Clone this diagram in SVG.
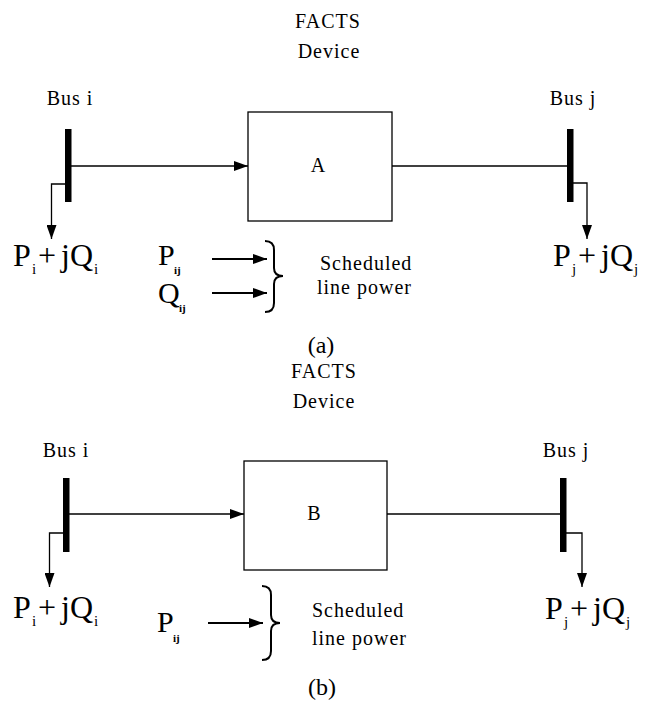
<svg xmlns="http://www.w3.org/2000/svg" width="645" height="701" viewBox="0 0 645 701">
<style>
.ln{stroke:#000;stroke-width:1.3;fill:none}
.thick{stroke:#000;stroke-width:2.2;fill:none}
.bar{fill:#000}
.box{fill:#fff;stroke:#000;stroke-width:1.3}
.brace{stroke:#000;stroke-width:2;fill:none}
</style>
<defs>
<marker id="ah" markerUnits="userSpaceOnUse" markerWidth="14" markerHeight="10" refX="14" refY="5" orient="auto">
<path d="M0,0 L14,5 L0,10 z" fill="#000"/>
</marker>
</defs>

<!-- Panel (a) -->
<g id="a-device">
<text font-family="Liberation Serif" font-size="20" letter-spacing="1" x="328" y="28" text-anchor="middle">FACTS</text>
<text font-family="Liberation Serif" font-size="20" letter-spacing="1" x="329" y="58" text-anchor="middle">Device</text>
<rect class="box" x="248" y="112" width="144" height="109"/>
<text font-family="Liberation Serif" font-size="20" x="318" y="172" text-anchor="middle">A</text>
</g>
<g id="a-busi">
<text font-family="Liberation Serif" font-size="20" letter-spacing="1" x="70" y="105" text-anchor="middle">Bus i</text>
<rect class="bar" x="65" y="129" width="6.5" height="73"/>
<text font-family="Liberation Serif" font-size="32" y="266"><tspan x="13">P</tspan><tspan font-size="15" x="32" y="274">i</tspan><tspan x="38" y="266">+</tspan><tspan x="61" y="266">jQ</tspan><tspan font-size="15" x="94" y="274">i</tspan></text>
</g>
<g id="a-busj">
<text font-family="Liberation Serif" font-size="20" letter-spacing="1" x="573" y="105" text-anchor="middle">Bus j</text>
<rect class="bar" x="567" y="129" width="6.5" height="73"/>
<text font-family="Liberation Serif" font-size="32" y="266"><tspan x="553">P</tspan><tspan font-size="15" x="572" y="274">j</tspan><tspan x="578" y="266">+</tspan><tspan x="601" y="266">jQ</tspan><tspan font-size="15" x="634" y="274">j</tspan></text>
</g>
<g id="a-sched">
<text font-family="Liberation Serif" font-size="30" y="265"><tspan x="158">P</tspan><tspan font-size="11" font-weight="bold" x="174" y="274">ij</tspan></text>
<text font-family="Liberation Serif" font-size="30" y="303"><tspan x="158">Q</tspan><tspan font-size="11" font-weight="bold" x="179" y="312">ij</tspan></text>
<path class="brace" d="M265,241 Q274,241 274,250 L274,268 Q274,276 283,276 Q274,276 274,284 L274,303 Q274,312 265,312"/>
<text font-family="Liberation Serif" font-size="20" letter-spacing="1" x="320" y="270">Scheduled</text>
<text font-family="Liberation Serif" font-size="20" letter-spacing="1" x="317" y="294">line power</text>
</g>
<text font-family="Liberation Serif" font-size="24" x="321" y="353" text-anchor="middle">(a)</text>

<!-- Panel (b) -->
<g id="b-device">
<text font-family="Liberation Serif" font-size="20" letter-spacing="1" x="324" y="378" text-anchor="middle">FACTS</text>
<text font-family="Liberation Serif" font-size="20" letter-spacing="1" x="324" y="408" text-anchor="middle">Device</text>
<rect class="box" x="244" y="461" width="143" height="109"/>
<text font-family="Liberation Serif" font-size="20" x="314" y="520" text-anchor="middle">B</text>
</g>
<g id="b-busi">
<text font-family="Liberation Serif" font-size="20" letter-spacing="1" x="66" y="457" text-anchor="middle">Bus i</text>
<rect class="bar" x="63" y="478" width="6.5" height="74"/>
<text font-family="Liberation Serif" font-size="32" y="618"><tspan x="13">P</tspan><tspan font-size="15" x="32" y="626">i</tspan><tspan x="38" y="618">+</tspan><tspan x="61" y="618">jQ</tspan><tspan font-size="15" x="94" y="626">i</tspan></text>
</g>
<g id="b-busj">
<text font-family="Liberation Serif" font-size="20" letter-spacing="1" x="566" y="457" text-anchor="middle">Bus j</text>
<rect class="bar" x="560" y="478" width="6.5" height="74"/>
<text font-family="Liberation Serif" font-size="32" y="619"><tspan x="545">P</tspan><tspan font-size="15" x="564" y="627">j</tspan><tspan x="570" y="619">+</tspan><tspan x="593" y="619">jQ</tspan><tspan font-size="15" x="626" y="627">j</tspan></text>
</g>
<g id="b-sched">
<text font-family="Liberation Serif" font-size="30" y="632"><tspan x="157">P</tspan><tspan font-size="11" font-weight="bold" x="173" y="642">ij</tspan></text>
<path class="brace" d="M262,586 Q271,586 271,595 L271,615 Q271,623 280,623 Q271,623 271,631 L271,651 Q271,660 262,660"/>
<text font-family="Liberation Serif" font-size="20" letter-spacing="1" x="312" y="617">Scheduled</text>
<text font-family="Liberation Serif" font-size="20" letter-spacing="1" x="312" y="645">line power</text>
</g>
<text font-family="Liberation Serif" font-size="24" x="322" y="695" text-anchor="middle">(b)</text>

<g id="connectors">
<line class="ln" x1="71" y1="166" x2="248" y2="166" marker-end="url(#ah)"/>
<line class="ln" x1="392" y1="166" x2="567" y2="166"/>
<polyline class="ln" points="65,184 51.5,184 51.5,239" marker-end="url(#ah)"/>
<polyline class="ln" points="573,183 587,183 587,239" marker-end="url(#ah)"/>
<line class="thick" x1="212" y1="259" x2="267" y2="259" marker-end="url(#ah)"/>
<line class="thick" x1="212" y1="293" x2="267" y2="293" marker-end="url(#ah)"/>
<line class="ln" x1="69" y1="514" x2="244" y2="514" marker-end="url(#ah)"/>
<line class="ln" x1="387" y1="514" x2="560" y2="514"/>
<polyline class="ln" points="63,533 49.5,533 49.5,587" marker-end="url(#ah)"/>
<polyline class="ln" points="566,533 582,533 582,587" marker-end="url(#ah)"/>
<line class="thick" x1="208" y1="623" x2="263" y2="623" marker-end="url(#ah)"/>
</g>
</svg>
